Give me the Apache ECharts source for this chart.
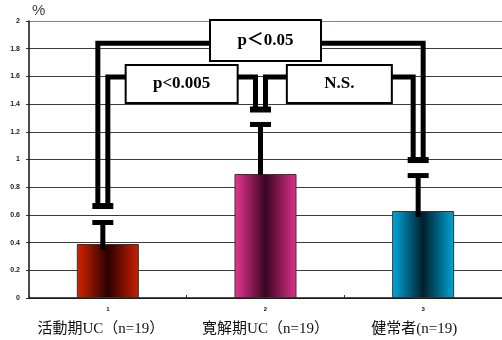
<!DOCTYPE html>
<html><head><meta charset="utf-8">
<script src="https://cdn.jsdelivr.net/npm/echarts@6/dist/echarts.min.js"></script>
<style>html,body{margin:0;padding:0;background:#fff}#c{width:502px;height:340px}</style>
</head><body><div id="c"></div>
<script>
// ---- data ----
const categories = ['活動期UC（n=19）', '寛解期UC（n=19）', '健常者(n=19)'];
const tickNumbers = ['1', '2', '3'];
const means = [0.39, 0.895, 0.628];
const errorHigh = [0.545, 1.253, 0.884];
const errorLow = [0.35, 0.89, 0.585];
const bracketBase = [0.664, 1.361, 0.996];
const bracketFrom = [0, 0, 1];
const bracketTo = [2, 1, 2];
const bracketLevel = [1.84, 1.596, 1.596];
const bracketBoxLevel = [1.859, 1.545, 1.545];
const bracketText = ['p＜0.05', 'p<0.005', 'N.S.'];
const yTickLabels = ['0', '0.2', '0.4', '0.6', '0.8', '1', '1.2', '1.4', '1.6', '1.8', '2'];
const yUnit = '%';

// ---- styles ----
const barGradients = [
  ['#d62400', '#2a0000', '#cc2000'],
  ['#ea3592', '#3a0522', '#e0308a'],
  ['#00aade', '#00202c', '#00a6d6']
];
const ERR_DX = -5;
const PAIR = 5;
const boxShift = [5, 0, 0];
const boxW = [111, 112, 105];
const boxH = [41, 38, 38];
const labelPad = [[0, 14, 0, 0], [0, 0, 0, 0], [0, 18, 0, 0]];

function grad(c) {
  return new echarts.graphic.LinearGradient(0, 0, 1, 0, [
    { offset: 0, color: c[0] }, { offset: 0.5, color: c[1] }, { offset: 1, color: c[2] }
  ]);
}

const gridColors = yTickLabels.map((_, i) => i === yTickLabels.length - 1 ? '#7a82c6' : '#3c3c3c');

const richLabels = { n: { fontSize: 6, fontWeight: 'bold', color: '#111', lineHeight: 10 } };
categories.forEach((_, i) => {
  richLabels['c' + i] = {
    fontSize: 15, lineHeight: 30, color: '#111',
    fontFamily: '"Liberation Serif", "Noto Sans CJK JP", serif',
    padding: labelPad[i]
  };
});

const chart = echarts.init(document.getElementById('c'), null, { renderer: 'canvas' });
chart.setOption({
  animation: false,
  backgroundColor: '#fff',
  grid: { left: 29, right: -2, top: 21, bottom: 42, containLabel: false },
  xAxis: {
    type: 'category', data: categories,
    axisLine: { lineStyle: { color: '#111', width: 1.5 } },
    axisTick: { show: true, inside: true, length: 3, lineStyle: { color: '#333' } },
    axisLabel: {
      interval: 0, margin: 6,
      formatter: (v, idx) => '{n|' + tickNumbers[idx] + '}\n{c' + idx + '|' + v + '}',
      rich: richLabels
    }
  },
  yAxis: {
    type: 'value', min: 0, max: 2, interval: 0.2,
    name: yUnit, nameLocation: 'end', nameGap: 3,
    nameTextStyle: { align: 'left', fontSize: 15, color: '#444', padding: [0, 0, 0, 3] },
    axisLine: { show: true, lineStyle: { color: '#111', width: 1.5 } },
    axisTick: { show: true, length: 3, lineStyle: { color: '#333' } },
    axisLabel: {
      fontSize: 7, fontWeight: 'bold', color: '#222', margin: 9,
      formatter: (v) => yTickLabels[Math.round(v / 0.2)]
    },
    splitLine: { show: true, lineStyle: { color: gridColors, width: 1 } }
  },
  series: [
    {
      type: 'bar', barWidth: 62,
      data: means.map((m, i) => ({
        value: m,
        itemStyle: { color: grad(barGradients[i]), borderColor: '#333', borderWidth: 1 }
      })),
      z: 2
    },
    {
      type: 'custom', z: 3,
      data: means.map((m, i) => [i, errorLow[i], errorHigh[i]]),
      renderItem: (params, api) => {
        const i = api.value(0);
        const top = api.coord([i, api.value(2)]);
        const bot = api.coord([i, api.value(1)]);
        const x = top[0] + ERR_DX;
        return { type: 'group', children: [
          { type: 'rect', shape: { x: x - 2.5, y: top[1], width: 5, height: bot[1] - top[1] }, style: { fill: '#000' } },
          { type: 'rect', shape: { x: x - 10.5, y: top[1] - 2.5, width: 21, height: 5 }, style: { fill: '#000' } }
        ] };
      }
    },
    {
      type: 'custom', z: 4,
      data: bracketFrom.map((f, k) => [f, bracketTo[k], bracketLevel[k], bracketBase[f], bracketBase[bracketTo[k]], bracketBoxLevel[k], k]),
      renderItem: (params, api) => {
        const from = api.value(0), to = api.value(1);
        const k = api.value(6);
        const outer = (to - from) > 1;
        const xa = api.coord([from, 0])[0] + ERR_DX + (outer ? -PAIR : PAIR);
        const xb = api.coord([to, 0])[0] + ERR_DX + (outer ? PAIR : -PAIR);
        const yl = api.coord([from, api.value(2)])[1];
        const ya = api.coord([from, api.value(3)])[1];
        const yb = api.coord([to, api.value(4)])[1];
        const cy = api.coord([from, api.value(5)])[1];
        const cx = (xa + xb) / 2 + boxShift[k];
        return { type: 'group', children: [
          { type: 'polyline', shape: { points: [[xa, ya], [xa, yl], [xb, yl], [xb, yb]] },
            style: { stroke: '#000', lineWidth: 5, fill: null, lineJoin: 'miter' } },
          { type: 'rect', shape: { x: cx - boxW[k] / 2, y: cy - boxH[k] / 2, width: boxW[k], height: boxH[k] },
            style: { fill: '#fff', stroke: '#000', lineWidth: 2 }, z2: 5 },
          { type: 'text', x: cx, y: cy, z2: 6,
            style: { text: bracketText[k], align: 'center', verticalAlign: 'middle',
              font: 'bold 17px "Liberation Serif", "Noto Sans CJK JP", serif', fill: '#000' } }
        ] };
      }
    },
    {
      type: 'custom', z: 5,
      data: bracketBase.map((b, i) => [i, b]),
      renderItem: (params, api) => {
        const p = api.coord([api.value(0), api.value(1)]);
        const x = p[0] + ERR_DX;
        return { type: 'rect', shape: { x: x - 10.5, y: p[1] - 3, width: 21, height: 6 }, style: { fill: '#000' } };
      }
    }
  ]
});
</script>
</body></html>
